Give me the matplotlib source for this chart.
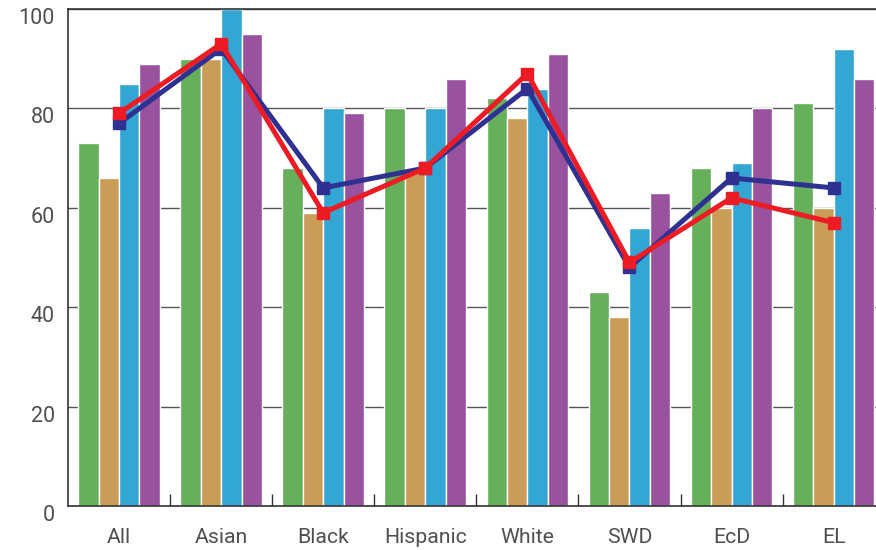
import matplotlib.pyplot as plt
import numpy as np
from matplotlib.transforms import ScaledTranslation

groups = ['All', 'Asian', 'Black', 'Hispanic', 'White', 'SWD', 'EcD', 'EL']

green = [73, 90, 68, 80, 82, 43, 68, 81]
tan = [66, 90, 59, 68, 78, 38, 60, 60]
blue = [85, 100, 80, 80, 84, 56, 69, 92]
purple = [89, 95, 79, 86, 91, 63, 80, 86]

line_navy = [77, 92, 64, 68, 84, 48, 66, 64]
line_red = [79, 93, 59, 68, 87, 49, 62, 57]

bar_colors = ['#66b05c', '#c99c57', '#33a6d4', '#98529e']

plt.rcParams['font.family'] = ['Roboto', 'DejaVu Sans']

fig = plt.figure(figsize=(8.76, 5.5), dpi=100)
ax = fig.add_axes([68/876, 44/550, (884.7 - 68)/876, 497/550])

x = np.arange(len(groups))
w = 0.2
for i, vals in enumerate([green, tan, blue, purple]):
    ax.bar(x + (i - 1.5)*w, vals, w, color=bar_colors[i], edgecolor='white',
           linewidth=1, zorder=2)

ax.plot(x, line_navy, color='#2e3192', lw=3.6, marker='s', ms=9, zorder=3)
ax.plot(x, line_red, color='#ed1c24', lw=3.6, marker='s', ms=9, zorder=4)

ax.set_xlim(-0.5, 7.5)
ax.set_ylim(0, 100)
ax.set_yticks([0, 20, 40, 60, 80, 100])
ax.yaxis.grid(True, color='#555555', lw=1, zorder=0)
ax.set_axisbelow(True)

ax.set_xticks(np.arange(0.5, 7, 1))
ax.set_xticklabels([])
ax.set_xticks(x, minor=True)
ax.set_xticklabels(groups, minor=True)
ax.tick_params(axis='x', which='major', direction='in', length=8.5, width=1, color='#333333')
ax.tick_params(axis='x', which='minor', length=0, pad=16, labelsize=15.3, labelcolor='#505050')
ax.tick_params(axis='y', length=0, pad=9.5, labelsize=15.5, labelcolor='#505050')

offset = ScaledTranslation(0, -7/100, fig.dpi_scale_trans)
for lab in ax.get_yticklabels():
    lab.set_transform(lab.get_transform() + offset)

ax.spines['right'].set_visible(False)
for s in ['left', 'bottom', 'top']:
    ax.spines[s].set_color('#333333')
    ax.spines[s].set_linewidth(1.2)

fig.savefig('out.png', dpi=100)
